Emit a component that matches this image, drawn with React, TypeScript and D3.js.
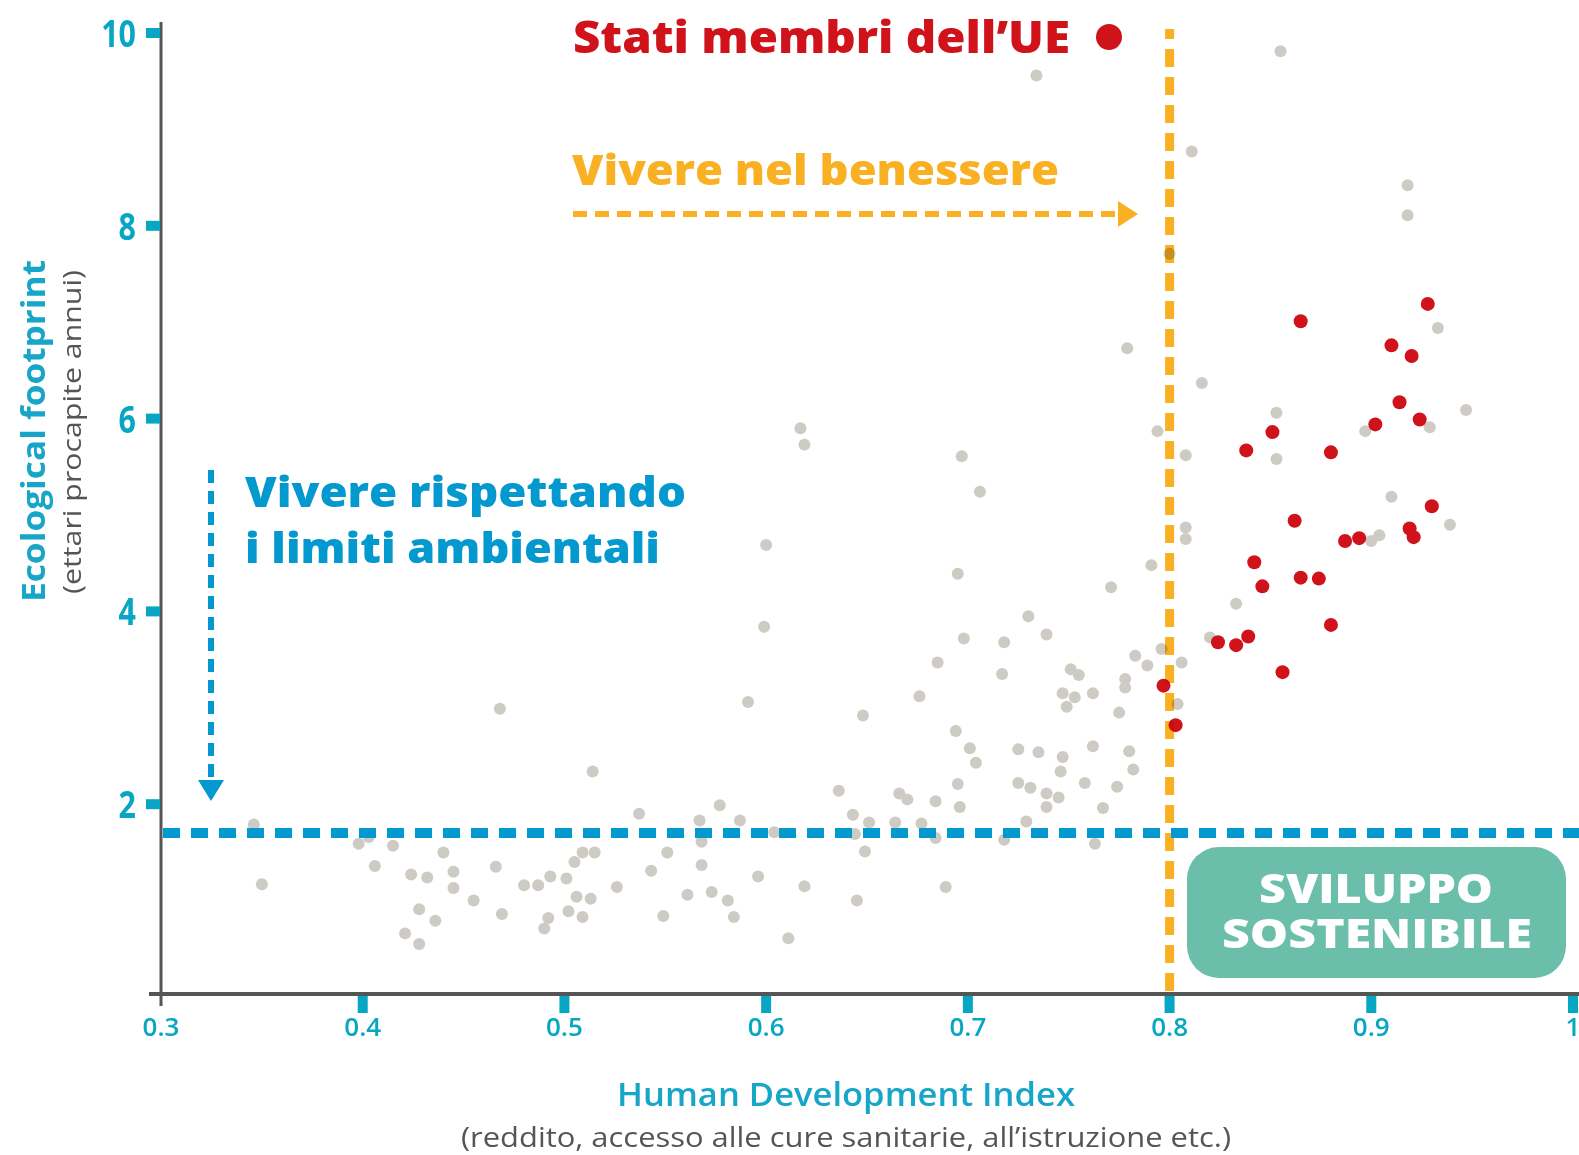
import React, { useEffect, useRef } from "react";
import { select, scaleLinear } from "d3";

// EU member states (HDI, ecological footprint in gha per capita)
const euHdi = [
  0.928, 0.865, 0.91, 0.92, 0.914, 0.902, 0.924, 0.851, 0.838, 0.88, 0.93,
  0.862, 0.887, 0.894, 0.919, 0.921, 0.842, 0.865, 0.874, 0.846, 0.88, 0.824,
  0.833, 0.839, 0.856, 0.797, 0.803,
];
const euFootprint = [
  7.19, 7.01, 6.76, 6.65, 6.17, 5.94, 5.99, 5.86, 5.67, 5.65, 5.09, 4.94, 4.73,
  4.76, 4.86, 4.77, 4.51, 4.35, 4.34, 4.26, 3.86, 3.68, 3.65, 3.74, 3.37, 3.23,
  2.82,
];

// all other countries
const otherHdi = [
  0.855, 0.734, 0.811, 0.918, 0.918, 0.8, 0.933, 0.779, 0.816, 0.947, 0.853,
  0.794, 0.929, 0.897, 0.808, 0.853, 0.91, 0.939, 0.808, 0.808, 0.904, 0.9,
  0.791, 0.771, 0.833, 0.82, 0.796, 0.783, 0.789, 0.806, 0.778, 0.778, 0.804,
  0.6, 0.695, 0.599, 0.73, 0.739, 0.698, 0.718, 0.685, 0.717, 0.751, 0.755,
  0.747, 0.753, 0.762, 0.749, 0.676, 0.591, 0.648, 0.775, 0.694, 0.701, 0.704,
  0.725, 0.735, 0.747, 0.746, 0.762, 0.78, 0.782, 0.695, 0.725, 0.731, 0.739,
  0.745, 0.739, 0.758, 0.767, 0.774, 0.636, 0.666, 0.67, 0.684, 0.696, 0.577,
  0.643, 0.587, 0.651, 0.664, 0.677, 0.729, 0.567, 0.604, 0.644, 0.684, 0.718,
  0.763, 0.649, 0.568, 0.568, 0.596, 0.619, 0.573, 0.581, 0.584, 0.645, 0.689,
  0.611, 0.617, 0.619, 0.697, 0.706, 0.468, 0.514, 0.537, 0.398, 0.403, 0.415,
  0.406, 0.424, 0.432, 0.44, 0.445, 0.445, 0.455, 0.428, 0.436, 0.421, 0.428,
  0.466, 0.469, 0.48, 0.487, 0.493, 0.501, 0.505, 0.509, 0.515, 0.506, 0.513,
  0.492, 0.49, 0.502, 0.509, 0.526, 0.543, 0.551, 0.549, 0.561, 0.346, 0.35,
];
const otherFootprint = [
  9.81, 9.56, 8.77, 8.42, 8.11, 7.71, 6.94, 6.73, 6.37, 6.09, 6.06, 5.87, 5.91,
  5.87, 5.62, 5.58, 5.19, 4.9, 4.87, 4.75, 4.79, 4.73, 4.48, 4.25, 4.08, 3.73,
  3.61, 3.54, 3.44, 3.47, 3.3, 3.21, 3.04, 4.69, 4.39, 3.84, 3.95, 3.76, 3.72,
  3.68, 3.47, 3.35, 3.4, 3.34, 3.15, 3.11, 3.15, 3.01, 3.12, 3.06, 2.92, 2.95,
  2.76, 2.58, 2.43, 2.57, 2.54, 2.49, 2.34, 2.6, 2.55, 2.36, 2.21, 2.22, 2.17,
  2.11, 2.07, 1.97, 2.22, 1.96, 2.18, 2.14, 2.11, 2.05, 2.03, 1.97, 1.99, 1.89,
  1.83, 1.81, 1.81, 1.8, 1.82, 1.83, 1.71, 1.69, 1.65, 1.63, 1.59, 1.51, 1.61,
  1.37, 1.25, 1.15, 1.09, 1.0, 0.83, 1.0, 1.14, 0.61, 5.9, 5.73, 5.61, 5.24,
  2.99, 2.34, 1.9, 1.59, 1.66, 1.57, 1.36, 1.27, 1.24, 1.5, 1.3, 1.13, 1.0,
  0.91, 0.79, 0.66, 0.55, 1.35, 0.86, 1.16, 1.16, 1.25, 1.23, 1.4, 1.5, 1.5,
  1.04, 1.02, 0.82, 0.71, 0.89, 0.83, 1.14, 1.31, 1.5, 0.84, 1.06, 1.79, 1.17,
];

const xTicks = [0.3, 0.4, 0.5, 0.6, 0.7, 0.8, 0.9, 1];
const xTickLabels = ["0.3", "0.4", "0.5", "0.6", "0.7", "0.8", "0.9", "1"];
const yTicks = [2, 4, 6, 8, 10];
const yTickLabels = ["2", "4", "6", "8", "10"];

const biocapacity = 1.7; // world biocapacity per person
const hdiThreshold = 0.8; // very high human development

const W = 1579;
const H = 1155;
const FONT = "'Open Sans', 'DejaVu Sans', sans-serif";
const CYAN = "#07a7c3";
const BLUE = "#0399cf";
const ORANGE = "#f9b123";
const RED = "#d0121b";
const GREY = "#cdcbc3";

function App() {
  const svgRef = useRef<SVGSVGElement>(null);

  useEffect(() => {
    select(svgRef.current).selectAll("*").remove();
    const svg = select(svgRef.current);

    const x = scaleLinear().domain([0.3, 1]).range([161, 1573]);
    const y = scaleLinear().domain([0, 10]).range([997, 33]);
    const axisY = 994;

    // axes
    svg.append("line").attr("x1", 161).attr("x2", 161).attr("y1", 22).attr("y2", 1006)
      .attr("stroke", "#555").attr("stroke-width", 3);
    svg.append("line").attr("x1", 149).attr("x2", W).attr("y1", axisY).attr("y2", axisY)
      .attr("stroke", "#555").attr("stroke-width", 4);

    // y ticks
    svg.selectAll(".ytick").data(yTicks).enter().append("rect")
      .attr("x", 146).attr("y", (d) => y(d) - 5).attr("width", 14).attr("height", 10)
      .attr("fill", CYAN);
    svg.selectAll(".ylab").data(yTicks).enter().append("text")
      .attr("transform", (d) => `translate(136,${y(d) + 14}) scale(0.8,1)`)
      .attr("text-anchor", "end").attr("font-family", FONT).attr("font-weight", 700)
      .attr("font-size", 38).attr("fill", CYAN)
      .text((d, i) => yTickLabels[i]);

    // x ticks
    svg.selectAll(".xtick").data(xTicks.slice(1)).enter().append("rect")
      .attr("x", (d) => x(d) - 5).attr("y", axisY + 2).attr("width", 10).attr("height", 17)
      .attr("fill", CYAN);
    svg.selectAll(".xlab").data(xTicks).enter().append("text")
      .attr("x", (d) => x(d)).attr("y", 1036)
      .attr("text-anchor", "middle").attr("font-family", FONT).attr("font-weight", 600)
      .attr("font-size", 26).attr("fill", CYAN)
      .text((d, i) => xTickLabels[i]);

    // axis titles
    svg.append("text").attr("x", 846).attr("y", 1106).attr("text-anchor", "middle")
      .attr("font-family", FONT).attr("font-weight", 600).attr("font-size", 32)
      .attr("fill", "#17a5c8").attr("textLength", 458).attr("lengthAdjust", "spacingAndGlyphs")
      .text("Human Development Index");
    svg.append("text").attr("x", 846).attr("y", 1147).attr("text-anchor", "middle")
      .attr("font-family", FONT).attr("font-size", 28).attr("fill", "#555")
      .attr("textLength", 770).attr("lengthAdjust", "spacingAndGlyphs")
      .text("(reddito, accesso alle cure sanitarie, all\u2019istruzione etc.)");
    svg.append("text").attr("transform", "translate(45,431) rotate(-90)")
      .attr("text-anchor", "middle").attr("font-family", FONT).attr("font-weight", 700)
      .attr("font-size", 32).attr("fill", "#17a5c8")
      .attr("textLength", 342).attr("lengthAdjust", "spacingAndGlyphs")
      .text("Ecological footprint");
    svg.append("text").attr("transform", "translate(81,432) rotate(-90)")
      .attr("text-anchor", "middle").attr("font-family", FONT).attr("font-size", 26)
      .attr("fill", "#555").attr("textLength", 324).attr("lengthAdjust", "spacingAndGlyphs")
      .text("(ettari procapite annui)");

    // points
    svg.append("g").selectAll("circle").data(otherHdi).enter().append("circle")
      .attr("cx", (d) => x(d)).attr("cy", (d, i) => y(otherFootprint[i]))
      .attr("r", 6).attr("fill", GREY);
    svg.append("g").selectAll("circle").data(euHdi).enter().append("circle")
      .attr("cx", (d) => x(d)).attr("cy", (d, i) => y(euFootprint[i]))
      .attr("r", 7).attr("fill", RED);

    // threshold lines
    svg.append("line").attr("x1", x(hdiThreshold)).attr("x2", x(hdiThreshold))
      .attr("y1", 29).attr("y2", axisY).attr("stroke", ORANGE).attr("stroke-width", 9)
      .attr("stroke-dasharray", "18 10").attr("stroke-dashoffset", 8)
      .style("mix-blend-mode", "multiply");
    svg.append("line").attr("x1", 163).attr("x2", W)
      .attr("y1", y(biocapacity)).attr("y2", y(biocapacity))
      .attr("stroke", BLUE).attr("stroke-width", 10).attr("stroke-dasharray", "17 11");

    // "Vivere rispettando" arrow
    svg.append("line").attr("x1", 211).attr("x2", 211).attr("y1", 470).attr("y2", 782)
      .attr("stroke", BLUE).attr("stroke-width", 6).attr("stroke-dasharray", "13 8");
    svg.append("path").attr("d", "M198,780 L224,780 L211,801 Z").attr("fill", BLUE);
    svg.append("text").attr("x", 245).attr("y", 507).attr("font-family", FONT)
      .attr("font-weight", 800).attr("font-size", 43).attr("fill", BLUE)
      .attr("textLength", 441).attr("lengthAdjust", "spacingAndGlyphs")
      .text("Vivere rispettando");
    svg.append("text").attr("x", 245).attr("y", 563).attr("font-family", FONT)
      .attr("font-weight", 800).attr("font-size", 43).attr("fill", BLUE)
      .attr("textLength", 415).attr("lengthAdjust", "spacingAndGlyphs")
      .text("i limiti ambientali");

    // "Vivere nel benessere" arrow
    svg.append("line").attr("x1", 573).attr("x2", 1120).attr("y1", 214).attr("y2", 214)
      .attr("stroke", ORANGE).attr("stroke-width", 6).attr("stroke-dasharray", "14 8");
    svg.append("path").attr("d", "M1118,201 L1138,214 L1118,227 Z").attr("fill", ORANGE);
    svg.append("text").attr("x", 572).attr("y", 185).attr("font-family", FONT)
      .attr("font-weight", 800).attr("font-size", 42).attr("fill", ORANGE)
      .attr("textLength", 487).attr("lengthAdjust", "spacingAndGlyphs")
      .text("Vivere nel benessere");

    // legend
    svg.append("text").attr("x", 573).attr("y", 53).attr("font-family", FONT)
      .attr("font-weight", 800).attr("font-size", 45).attr("fill", RED)
      .attr("textLength", 497).attr("lengthAdjust", "spacingAndGlyphs")
      .text("Stati membri dell\u2019UE");
    svg.append("circle").attr("cx", 1109).attr("cy", 37).attr("r", 13).attr("fill", RED);

    // sustainable development box
    svg.append("rect").attr("x", 1187).attr("y", 847).attr("width", 379).attr("height", 131)
      .attr("rx", 32).attr("fill", "#6bbfaa");
    svg.append("text").attr("x", 1376).attr("y", 903).attr("text-anchor", "middle")
      .attr("font-family", FONT).attr("font-weight", 800).attr("font-size", 40)
      .attr("fill", "#fff").attr("textLength", 234).attr("lengthAdjust", "spacingAndGlyphs")
      .text("SVILUPPO");
    svg.append("text").attr("x", 1377).attr("y", 948).attr("text-anchor", "middle")
      .attr("font-family", FONT).attr("font-weight", 800).attr("font-size", 40)
      .attr("fill", "#fff").attr("textLength", 310).attr("lengthAdjust", "spacingAndGlyphs")
      .text("SOSTENIBILE");
  }, []);

  return (
    <div style={{ position: "absolute", left: 0, top: 0 }}>
      <svg width={W} height={H} ref={svgRef} style={{ display: "block", background: "#fff" }}></svg>
    </div>
  );
}

export default App;
